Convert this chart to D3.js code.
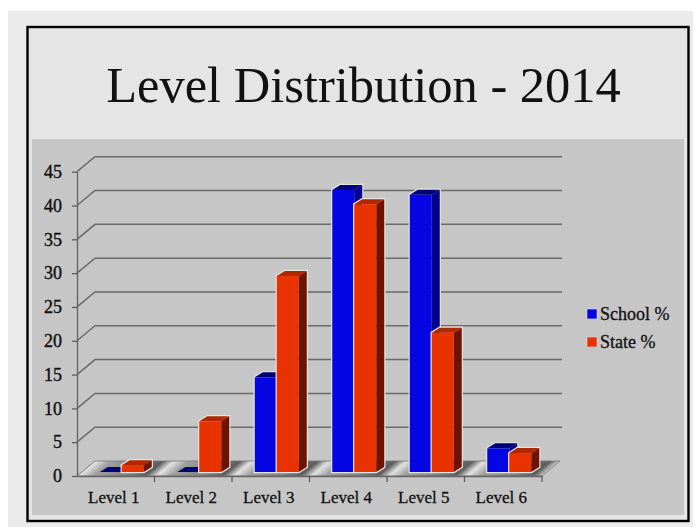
<!DOCTYPE html>
<html>
<head>
<meta charset="utf-8">
<script src="https://cdn.jsdelivr.net/npm/d3@7"></script>
<style>
  body { margin: 0; background: #fff; }
  text { font-family: "Liberation Serif", serif; fill: #111; }
</style>
</head>
<body>
<div id="chart"></div>
<script>
var levels = ["Level 1", "Level 2", "Level 3", "Level 4", "Level 5", "Level 6"];
var schoolValues = [0, 0, 14, 41.7, 41, 3.5];
var stateValues = [1, 7.5, 29, 39.6, 20.6, 2.8];
var seriesNames = ["School %", "State %"];
var yTicks = [0, 5, 10, 15, 20, 25, 30, 35, 40, 45];

var svg = d3.select("#chart").append("svg")
    .attr("width", 697)
    .attr("height", 532)
    .style("display", "block");

// slide background, black frame and the darker plot panel
svg.append("rect").attr("x", 8).attr("y", 11).attr("width", 685).attr("height", 516).attr("fill", "#ebebeb");
svg.append("rect").attr("x", 27.5).attr("y", 27).attr("width", 661).attr("height", 494)
    .attr("fill", "#e5e5e5").attr("stroke", "#000").attr("stroke-width", 2.4);
svg.append("rect").attr("x", 32).attr("y", 139).attr("width", 652).attr("height", 376).attr("fill", "#c6c6c6");

svg.append("text")
    .attr("x", 363.5).attr("y", 102)
    .attr("text-anchor", "middle")
    .attr("font-size", 50.5)
    .text("Level Distribution - 2014");

// scales
var x = d3.scaleBand().domain(levels).range([77, 542]);
var y = d3.scaleLinear().domain([0, 45]).range([476, 171.7]);

// 3d offsets
var wallX = 18, wallY = -15;
var barW = 22, sideX = 8, sideY = -5, barBase = -4;

// floor stripes run along the depth direction, one period per category
var defs = svg.append("defs");
var stripeLen = x.step() * 15 / Math.hypot(15, 18);
var floorGrad = defs.append("linearGradient")
    .attr("id", "floorStripes")
    .attr("gradientUnits", "userSpaceOnUse")
    .attr("spreadMethod", "repeat")
    .attr("x1", 165).attr("y1", 469)
    .attr("x2", 165 + stripeLen * 15 / Math.hypot(15, 18))
    .attr("y2", 469 + stripeLen * 18 / Math.hypot(15, 18));
floorGrad.append("stop").attr("offset", "0%").attr("stop-color", "#e2e2e2");
floorGrad.append("stop").attr("offset", "18%").attr("stop-color", "#a0a0a0");
floorGrad.append("stop").attr("offset", "60%").attr("stop-color", "#808080");
floorGrad.append("stop").attr("offset", "85%").attr("stop-color", "#5c5c5c");
floorGrad.append("stop").attr("offset", "100%").attr("stop-color", "#e2e2e2");

// gridlines on the back wall plus the short diagonals
var grid = svg.append("g").attr("fill", "none").attr("stroke", "#6a6a6a").attr("stroke-width", 1.5);
yTicks.forEach(function(t) {
  if (t > 0) {
    grid.append("path").attr("d", d3.line()([
      [77, y(t)],
      [77 + wallX, y(t) + wallY],
      [542 + wallX + 2, y(t) + wallY]
    ]));
  }
});

// floor
svg.append("path")
    .attr("d", d3.line()([[77, y(0)], [542, y(0)], [542 + wallX, y(0) + wallY], [77 + wallX, y(0) + wallY]]) + "Z")
    .attr("fill", "url(#floorStripes)")
    .attr("stroke", "#777")
    .attr("stroke-width", 0.8);

// axes
svg.append("g")
    .attr("transform", "translate(77,0)")
    .call(d3.axisLeft(y).tickValues(yTicks).tickSize(5).tickPadding(10).tickSizeOuter(0))
    .call(function(g) {
      g.select(".domain").attr("stroke", "#666").attr("stroke-width", 1.4);
      g.selectAll("line").attr("stroke", "#555").attr("stroke-width", 1.2);
      g.selectAll("text").attr("font-size", 18).attr("font-family", "Liberation Serif")
          .attr("fill", "#111").attr("stroke", "#111").attr("stroke-width", 0.4);
    });

svg.append("g")
    .attr("transform", "translate(0," + y(0) + ")")
    .call(d3.axisBottom(x).tickSize(0).tickPadding(15))
    .call(function(g) {
      g.select(".domain").attr("stroke", "#666").attr("stroke-width", 1.4);
      g.selectAll("text").attr("font-size", 17).attr("font-family", "Liberation Serif")
          .attr("fill", "#111").attr("stroke", "#111").attr("stroke-width", 0.3)
          .attr("dx", -2);
    });

// small ticks between categories
svg.append("g").selectAll("line")
    .data(levels)
    .join("line")
    .attr("x1", function(d) { return x(d) + x.step(); })
    .attr("x2", function(d) { return x(d) + x.step(); })
    .attr("y1", y(0))
    .attr("y2", y(0) + 6)
    .attr("stroke", "#555")
    .attr("stroke-width", 1.2);

// one 3d bar: halo, side, top then front
function drawBar(g, left, value, colors) {
  var top = y(value) + barBase;
  var base = y(0) + barBase;
  var outline = d3.line()([
    [left, base], [left, top], [left + sideX, top + sideY],
    [left + barW + sideX, top + sideY], [left + barW + sideX, base + sideY], [left + barW, base]
  ]) + "Z";
  if (value > 0) {
    g.append("path").attr("d", outline).attr("fill", "none").attr("stroke", "#e4e4e4").attr("stroke-width", 2.4);
  }
  g.append("path")
      .attr("d", d3.line()([[left + barW, top], [left + barW + sideX, top + sideY], [left + barW + sideX, base + sideY], [left + barW, base]]) + "Z")
      .attr("fill", colors.side);
  g.append("path")
      .attr("d", d3.line()([[left, top], [left + sideX, top + sideY], [left + barW + sideX, top + sideY], [left + barW, top]]) + "Z")
      .attr("fill", colors.top);
  g.append("rect")
      .attr("x", left).attr("y", top)
      .attr("width", barW).attr("height", base - top)
      .attr("fill", colors.front);
}

var blue = {front: "#0606e2", side: "#00008c", top: "#000078"};
var red = {front: "#e83200", side: "#6c1400", top: "#b02800"};

var bars = svg.append("g");
levels.forEach(function(level, i) {
  var center = x(level) + x.step() / 2 + 6;
  drawBar(bars, center - barW, schoolValues[i], blue);
  drawBar(bars, center, stateValues[i], red);
});

// legend
var legendColors = [blue.front, red.front];
var legendY = d3.scalePoint().domain(seriesNames).range([314, 342]);
var legend = svg.append("g").selectAll("g")
    .data(seriesNames)
    .join("g")
    .attr("transform", function(d) { return "translate(587," + legendY(d) + ")"; });
legend.append("rect")
    .attr("x", 0).attr("y", -5)
    .attr("width", 10).attr("height", 10)
    .attr("fill", function(d, i) { return legendColors[i]; })
    .attr("stroke", "#ddd")
    .attr("stroke-width", 0.6);
legend.append("text")
    .attr("x", 13).attr("y", 6)
    .attr("font-size", 18)
    .attr("stroke", "#111")
    .attr("stroke-width", 0.3)
    .text(function(d) { return d; });
</script>
</body>
</html>
